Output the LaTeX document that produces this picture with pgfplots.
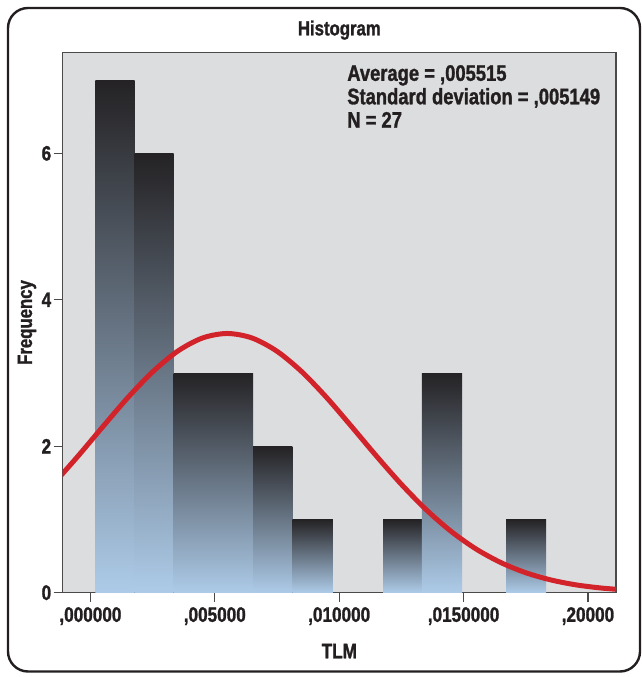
\documentclass[border=0pt]{standalone}
\usepackage{fontspec}
\setmainfont{Liberation Sans}[FakeStretch=0.82, BoldFeatures={FakeBold=1.3}]
\usepackage{pgfplots}
\pgfplotsset{compat=1.18}
\definecolor{plotbg}{HTML}{DCDDDF}
\definecolor{axisgray}{HTML}{4A4A4A}
\definecolor{txt}{HTML}{231F20}
\definecolor{barTop}{HTML}{242224}
\definecolor{barMid}{HTML}{6A727C}
\definecolor{barBot}{HTML}{ADCBE8}
\definecolor{curveRed}{HTML}{D2232A}
\begin{document}
\begin{tikzpicture}
\path (-62.7bp,-84.3bp) rectangle (579.3bp,592.7bp);
\draw[txt, line width=2.4bp, rounded corners=20bp] (-54.7bp,-78.8bp) rectangle (577.3bp,584.7bp);
\begin{axis}[
  at={(0,0)}, anchor=south west,
  width=553.3bp, height=540.4bp, scale only axis,
  xmin=-0.001115, xmax=0.021127, ymin=0, ymax=7.38,
  axis background/.style={fill=plotbg},
  axis line style={draw=axisgray, line width=1.3bp},
  tick style={draw=axisgray, line width=1.3bp},
  tick align=outside, major tick length=9bp,
  tick pos=left, minor tick num=0,
  scaled x ticks=false, scaled y ticks=false,
  xtick={0,0.005,0.01,0.015,0.02},
  xticklabels={{,000000},{,005000},{,010000},{,0150000},{,20000}},
  ytick={0,2,4,6}, yticklabels={0,2,4,6},
  tick label style={font=\fontsize{21}{22}\selectfont\bfseries, text=txt},
  xticklabel style={yshift=-2bp},
  yticklabel style={xshift=1bp},
  title={Histogram},
  title style={font=\fontsize{20.5}{21}\selectfont\bfseries, text=txt, at={(axis description cs:0.5,1.030)}, anchor=center},
  xlabel={TLM},
  xlabel style={font=\fontsize{21}{22}\selectfont\bfseries, text=txt, at={(axis description cs:0.5,-0.108)}, anchor=center},
  ylabel={Frequency},
  ylabel style={font=\fontsize{20.5}{21}\selectfont\bfseries, text=txt, at={(axis description cs:-0.0645,0.5)}, anchor=center, rotate=0},
]
\addplot[ybar interval, draw=none, top color=barTop, middle color=barMid, bottom color=barBot] coordinates {(0.000201,7) (0.001772,7)};
\addplot[ybar interval, draw=none, top color=barTop, middle color=barMid, bottom color=barBot] coordinates {(0.001772,6) (0.003342,6)};
\addplot[ybar interval, draw=none, top color=barTop, middle color=barMid, bottom color=barBot] coordinates {(0.003342,3) (0.004973,3)};
\addplot[ybar interval, draw=none, top color=barTop, middle color=barMid, bottom color=barBot] coordinates {(0.004973,3) (0.006535,3)};
\addplot[ybar interval, draw=none, top color=barTop, middle color=barMid, bottom color=barBot] coordinates {(0.006535,2) (0.008122,2)};
\addplot[ybar interval, draw=none, top color=barTop, middle color=barMid, bottom color=barBot] coordinates {(0.008122,1) (0.009744,1)};
\addplot[ybar interval, draw=none, top color=barTop, middle color=barMid, bottom color=barBot] coordinates {(0.011770,1) (0.013328,1)};
\addplot[ybar interval, draw=none, top color=barTop, middle color=barMid, bottom color=barBot] coordinates {(0.013328,3) (0.014939,3)};
\addplot[ybar interval, draw=none, top color=barTop, middle color=barMid, bottom color=barBot] coordinates {(0.016710,1) (0.018321,1)};
\addplot[smooth, color=curveRed, line width=5bp] coordinates {
(-0.0015,1.480) (-0.0005,1.865) (0.0005,2.268) (0.0015,2.663) (0.0025,3.016)
(0.0035,3.297) (0.0045,3.478) (0.0055,3.540) (0.0065,3.478) (0.0075,3.297)
(0.0085,3.016) (0.0095,2.663) (0.0105,2.268) (0.0115,1.865) (0.0125,1.480)
(0.0135,1.133) (0.0145,0.837) (0.0155,0.597) (0.0165,0.411) (0.0175,0.273)
(0.0185,0.175) (0.0195,0.108) (0.0205,0.065) (0.0215,0.037)};
\node[anchor=north west, align=left, inner sep=0pt, text=txt,
  font=\fontsize{22.5}{23.5}\selectfont\bfseries] at (rel axis cs:0.514,0.9765)
  {Average = ,005515\\Standard deviation = ,005149\\N = 27};
\end{axis}
\end{tikzpicture}
\end{document}
